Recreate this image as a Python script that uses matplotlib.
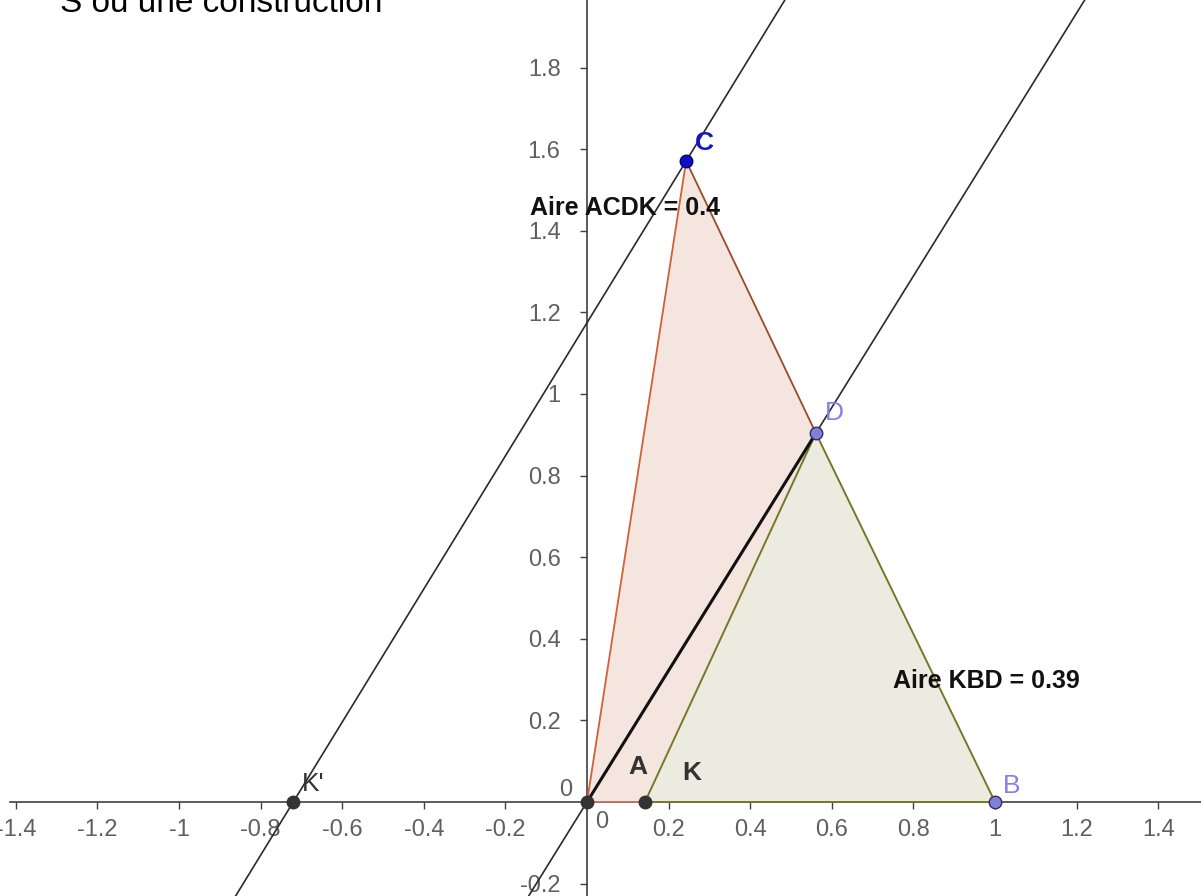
import numpy as np
import matplotlib
matplotlib.use("Agg")
import matplotlib.pyplot as plt

plt.rcParams['font.family'] = ['Liberation Sans', 'DejaVu Sans']

# points of the construction
A = (0.0, 0.0)
K = (0.142, 0.0)
B = (1.0, 0.0)
C = (0.243, 1.571)
D = (0.561, 0.904)
Kp = (-0.72, 0.0)

acdk_x = [A[0], C[0], D[0], K[0]]
acdk_y = [A[1], C[1], D[1], K[1]]
kbd_x = [K[0], B[0], D[0]]
kbd_y = [K[1], B[1], D[1]]

aire_acdk = 0.4
aire_kbd = 0.39

xticks = [-1.4, -1.2, -1, -0.8, -0.6, -0.4, -0.2, 0.2, 0.4, 0.6, 0.8, 1, 1.2, 1.4]
yticks = [-0.2, 0.2, 0.4, 0.6, 0.8, 1, 1.2, 1.4, 1.6, 1.8]


def fmt(v):
    return "%g" % v


fig = plt.figure(figsize=(12.01, 8.96), dpi=100)
ax = fig.add_axes([0, 0, 1, 1])
ax.set_xlim(-587 / 408, 614 / 408)
ax.set_ylim(-94 / 408, 802 / 408)

# axes through the origin
for s in ["top", "right"]:
    ax.spines[s].set_visible(False)
ax.spines["left"].set_position(("data", 0))
ax.spines["bottom"].set_position(("data", 0))
ax.spines["bottom"].set_bounds(-1.415, 1.6)
for s in ["left", "bottom"]:
    ax.spines[s].set_color("#404040")
    ax.spines[s].set_linewidth(1.2)
    ax.spines[s].set_zorder(1)

ax.set_xticks(xticks, [fmt(v) for v in xticks])
ax.set_yticks(yticks, [fmt(v) for v in yticks])
ax.tick_params(axis="x", direction="out", length=5, width=1, color="#404040",
               labelsize=17, labelcolor="#606060", pad=7)
ax.tick_params(axis="y", direction="out", length=5, width=1, color="#404040",
               labelsize=17, labelcolor="#606060", pad=14)
ax.text(-0.052, 0.03, "0", fontsize=17, color="#606060", ha="center", va="center")
ax.text(0.037, -0.05, "0", fontsize=17, color="#606060", ha="center", va="center")

# polygons
ax.fill(acdk_x, acdk_y, facecolor="#f5e5df", edgecolor="none", zorder=2)
ax.fill(kbd_x, kbd_y, facecolor="#ecebdf", edgecolor="none", zorder=2)
ax.plot([A[0], C[0]], [A[1], C[1]], color="#d0603a", lw=1.3, zorder=3)
ax.plot([C[0], D[0]], [C[1], D[1]], color="#9a4a2a", lw=1.3, zorder=3)
ax.plot([A[0], K[0]], [A[1], K[1]], color="#c07060", lw=1.3, zorder=3)
ax.plot(kbd_x + [K[0]], kbd_y + [K[1]], color="#77772a", lw=1.4, zorder=3)

# lines
ax.axline(A, D, color="#2a2a2a", lw=1.2, zorder=4)
ax.axline(Kp, C, color="#2a2a2a", lw=1.2, zorder=4)
ax.plot([A[0], D[0]], [A[1], D[1]], color="#111111", lw=2.2, zorder=4)

# points
ax.plot(*A, "o", ms=9, color="#333333", zorder=5)
ax.plot(*K, "o", ms=9, color="#333333", zorder=5)
ax.plot(*Kp, "o", ms=9, color="#333333", zorder=5)
ax.plot(*C, "o", ms=9, color="#1010c0", mec="#000080", zorder=5)
ax.plot(*D, "o", ms=9, color="#8080d8", mec="#303060", zorder=5)
ax.plot(*B, "o", ms=9, color="#8080d8", mec="#303060", zorder=5)

lab = dict(fontsize=19, ha="center", va="center", zorder=6)
ax.text(C[0] + 0.044, C[1] + 0.045, "C", color="#1515c8", fontweight="bold", **lab)
ax.text(D[0] + 0.045, D[1] + 0.05, "D", color="#8080f0", **lab)
ax.text(B[0] + 0.04, B[1] + 0.04, "B", color="#8080f0", **lab)
ax.text(A[0] + 0.125, A[1] + 0.085, "A", color="#333333", fontweight="bold", **lab)
ax.text(K[0] + 0.115, K[1] + 0.072, "K", color="#333333", fontweight="bold", **lab)
ax.text(Kp[0] + 0.05, Kp[1] + 0.045, "K'", color="#333333", **lab)

ax.text(-0.14, 1.455, "Aire ACDK = %s" % fmt(aire_acdk), fontsize=18, fontweight="bold",
        color="#111111", ha="left", va="center", zorder=6)
ax.text(0.75, 0.297, "Aire KBD = %s" % fmt(aire_kbd), fontsize=18, fontweight="bold",
        color="#111111", ha="left", va="center", zorder=6)

# first line of the page, mostly cut off at the top in the screenshot
fig.text(0.05, 1 - 12 / 896, "S ou une construction", fontsize=24, color="black",
         ha="left", va="baseline")

fig.savefig("out.png", dpi=100)
